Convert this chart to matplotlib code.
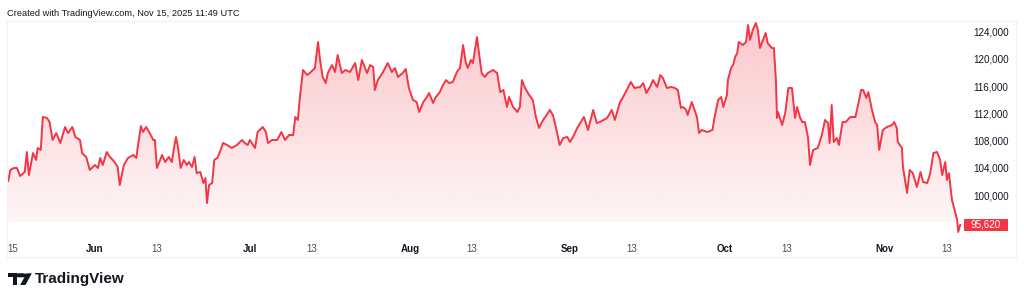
import numpy as np
import pandas as pd
import matplotlib
matplotlib.use("Agg")
import matplotlib.pyplot as plt
from matplotlib.colors import to_rgb
from matplotlib.patches import Polygon, Rectangle, Circle
from matplotlib.transforms import blended_transform_factory

plt.rcParams["font.family"] = ["Liberation Sans", "DejaVu Sans"]

START = pd.Timestamp("2025-05-15")
RED = "#F23645"
TEXT = "#131722"

# days since START and price (USD)
days = [
    0.2, 0.6, 1.3, 1.9, 2.5, 3.4, 3.8, 4.2, 5.0, 5.6, 5.9, 6.5, 6.9, 7.7, 8.2, 8.8, 9.5, 10.3,
    11.2, 11.8, 12.6, 13.2, 14.1, 14.5, 15.3, 16.0, 17.0, 17.6, 18.0, 18.5, 19.3, 19.9, 20.8,
    21.4, 21.8, 22.6, 23.4, 24.4, 25.0, 25.4, 25.9, 26.3, 26.9, 27.5, 28.3, 28.6, 29.0, 30.0,
    30.6, 31.3, 31.9, 32.3, 32.7, 33.1, 33.6, 34.2, 34.8, 35.2, 35.8, 36.3, 36.7, 37.4, 38.0,
    38.4, 38.7, 39.1, 39.7, 40.1, 40.7, 41.2, 41.8, 42.6, 43.5, 44.5, 45.5, 46.0, 46.6, 47.0,
    48.0, 48.5, 49.5, 50.1, 50.5, 51.3, 52.3, 53.1, 53.8, 54.6, 55.4, 55.8, 56.3, 56.7, 57.3,
    58.1, 58.6, 59.6, 60.2, 60.6, 61.1, 61.7, 62.1, 62.9, 63.5, 64.0, 64.8, 65.5, 66.4, 67.4,
    68.0, 68.7, 69.7, 70.3, 70.9, 71.2, 71.8, 72.8, 73.7, 74.5, 75.1, 75.7, 76.6, 77.2, 77.8,
    78.6, 79.3, 79.8, 80.6, 81.3, 81.7, 82.5, 82.9, 83.8, 84.4, 85.0, 85.6, 86.3, 87.1, 87.7,
    88.3, 88.8, 89.2, 89.8, 90.2, 91.0, 91.3, 91.9, 92.5, 93.1, 94.1, 94.9, 95.5, 96.1, 96.8,
    97.2, 98.0, 98.8, 99.3, 99.7, 100.3, 101.1, 101.8, 102.4, 103.0, 103.8, 104.5, 105.1,
    105.7, 106.4, 107.0, 107.7, 108.5, 109.0, 109.6, 110.4, 111.0, 111.7, 112.5, 113.5, 114.2,
    114.8, 116.2, 117.1, 117.7, 118.7, 119.2, 120.0, 120.8, 121.5, 122.6, 123.2, 123.8, 124.5,
    125.1, 125.9, 126.5, 127.0, 127.8, 128.6, 129.3, 129.9, 130.5, 130.9, 131.5, 131.8, 132.6,
    133.0, 133.6, 134.0, 134.5, 135.6, 136.6, 136.7, 137.1, 137.7, 138.3, 138.7, 139.1, 139.4,
    139.6, 140.2, 140.6, 141.0, 141.4, 141.7, 142.5, 143.1, 143.5, 143.9, 144.4, 145.0, 145.4,
    145.8, 146.4, 146.9, 147.3, 148.1, 148.5, 148.9, 149.1, 149.3, 150.1, 150.7, 151.3, 152.0,
    152.6, 153.0, 153.6, 154.0, 154.5, 155.1, 155.5, 156.1, 157.0, 157.8, 158.4, 159.0, 159.3,
    159.7, 160.1, 160.7, 161.1, 161.8, 162.4, 163.3, 164.3, 164.8, 165.4, 165.8, 166.4, 166.8,
    167.5, 168.1, 168.5, 168.9, 169.6, 170.4, 171.4, 171.8, 172.3, 172.5, 173.3, 173.5, 174.3,
    174.8, 175.4, 176.2, 176.9, 177.4, 178.2, 178.8, 179.4, 180.1, 180.7, 181.1, 181.7, 182.0,
    182.4, 183.0, 183.6, 184.0, 184.2, 184.6,
]
prices = [
    102050, 103680, 103970, 103970, 102790, 103380, 106320, 102940, 106170, 105150, 106910,
    106620, 111470, 111320, 110730, 108090, 109110, 107640, 110000, 109110, 110000, 108530,
    108090, 106170, 105590, 103680, 104410, 103970, 105440, 104410, 106320, 105590, 104850,
    104120, 101470, 104410, 105440, 105880, 105440, 107640, 110140, 109260, 110000, 109260,
    108090, 108090, 103970, 105880, 104850, 105590, 104850, 106910, 108530, 106910, 103970,
    105150, 104410, 104850, 104120, 105590, 103230, 103380, 101760, 102500, 98820, 101470,
    101760, 105150, 105440, 106320, 107640, 107350, 106910, 107350, 108090, 107640, 107350,
    108090, 106910, 109260, 110000, 109260, 107640, 108090, 108090, 109260, 108090, 108820,
    108820, 111470, 111030, 114410, 118380, 117640, 117930, 118670, 122490, 119850, 117350,
    116460, 117930, 119110, 118080, 120580, 117930, 118380, 118080, 119400, 116900, 119850,
    117930, 119110, 118820, 115440, 116900, 118080, 119400, 118080, 118670, 117350, 117930,
    118520, 115730, 113970, 113670, 112200, 113670, 114410, 114990, 113520, 114260, 115140,
    116170, 116900, 116460, 116610, 118080, 118670, 122050, 119550, 118670, 119850, 119400,
    123230, 121320, 117930, 117350, 117930, 118380, 117930, 115140, 115440, 112940, 114410,
    112940, 112200, 112940, 116900, 115730, 114700, 113970, 111470, 109850, 111030, 111760,
    112500, 111760, 109560, 107350, 108380, 108530, 107790, 108530, 109850, 110580, 111470,
    109560, 112500, 110580, 110730, 111320, 112500, 111030, 113670, 114260, 115440, 116610,
    115730, 115880, 116460, 114990, 115880, 116900, 115880, 117640, 117200, 115730, 115880,
    115730, 115440, 112790, 112940, 112500, 111760, 113670, 112790, 111470, 109110, 109560,
    109260, 109560, 110000, 111760, 113970, 114410, 112940, 113970, 114700, 116900, 118670,
    119110, 120290, 120870, 122490, 122050, 122490, 124990, 122790, 124250, 125280, 124250,
    121610, 122790, 123810, 122340, 121610, 121610, 116900, 111320, 112200, 110290, 112050,
    115730, 115730, 111320, 112940, 111320, 110730, 110730, 108530, 104410, 106620, 106910,
    108820, 111030, 110580, 107640, 113230, 107790, 108380, 107350, 110730, 110730, 111470,
    111470, 113230, 115440, 115440, 114260, 115140, 112500, 110730, 110290, 106620, 109560,
    110000, 110290, 110730, 109850, 107790, 106910, 104120, 100290, 103680, 103230, 101180,
    103380, 101910, 101760, 103230, 106170, 106320, 105150, 102940, 104850, 102210, 103230,
    99270, 97500, 96330, 94560, 95620,
]

tick_dates = ["2025-05-15", "2025-06-01", "2025-06-13", "2025-07-01", "2025-07-13",
              "2025-08-01", "2025-08-13", "2025-09-01", "2025-09-13", "2025-10-01",
              "2025-10-13", "2025-11-01", "2025-11-13"]
tick_labels = ["15", "Jun", "13", "Jul", "13", "Aug", "13", "Sep", "13", "Oct", "13", "Nov", "13"]
price_ticks = list(range(100000, 124001, 4000))

W, H = 1024, 302
fig = plt.figure(figsize=(W / 100, H / 100), dpi=100)
fig.patch.set_facecolor("white")


def px(x, y):
    return x / W, 1 - y / H


ax = fig.add_axes([7 / W, 1 - 235 / H, 961 / W, 214 / H])
x = np.array(days)
y = np.array(prices)
xmin, xmax = -0.04, 186.1
ymin, ymax = 94120, 125580
base = 96000

# gradient area under the line
grad = np.zeros((200, 1, 4))
grad[:, 0, :3] = to_rgb(RED)
grad[:, 0, 3] = np.linspace(0.28, 0.05, 200)
im = ax.imshow(grad, aspect="auto", extent=[xmin, xmax, base, ymax], origin="upper", zorder=1)
verts = [(x[0], base)] + list(zip(x, y)) + [(x[-1], base)]
poly = Polygon(verts, closed=True, facecolor="none", edgecolor="none")
ax.add_patch(poly)
im.set_clip_path(poly)

ax.plot(x, y, color=RED, lw=1.4, zorder=3, solid_joinstyle="round")

ax.set_xlim(xmin, xmax)
ax.set_ylim(ymin, ymax)
for s in ax.spines.values():
    s.set_visible(False)

tick_pos = [(pd.Timestamp(d) - START).days for d in tick_dates]
ax.set_xticks(tick_pos)
ax.set_xticklabels(tick_labels)
ax.tick_params(axis="x", length=0, pad=6.5, labelsize=7, labelcolor="#4a4e59")
for i, lab in enumerate(ax.get_xticklabels()):
    if not lab.get_text().isdigit():
        lab.set_fontweight("bold")
        lab.set_color(TEXT)
    if i == 0:
        lab.set_horizontalalignment("left")

ax.yaxis.tick_right()
ax.set_yticks(price_ticks)
ax.set_yticklabels([f"{v:,}" for v in price_ticks])
ax.tick_params(axis="y", length=0, pad=3.6, labelsize=7.1, labelcolor=TEXT)

# last price label
tr = blended_transform_factory(ax.transAxes, ax.transData)
ax.add_patch(Rectangle((957 / 961, y[-1] - 880), 44 / 961, 1760, transform=tr,
                       facecolor=RED, edgecolor="none", clip_on=False, zorder=5))
ax.text(979 / 961, y[-1], f"{y[-1]:,}", transform=tr, ha="center", va="center",
        color="white", fontsize=7.1, zorder=6, clip_on=False)

# pane border
fig.add_artist(Rectangle(px(7, 257), 1009 / W, 236 / H, transform=fig.transFigure,
                         facecolor="none", edgecolor="#eef0f4", lw=0.8))

fig.text(*px(7, 14), "Created with TradingView.com, Nov 15, 2025 11:49 UTC",
         fontsize=6.7, color=TEXT, va="center", ha="left")

# TradingView logo
logo = "#131722"
fig.add_artist(Rectangle(px(8.3, 277.3), 9 / W, 4 / H, transform=fig.transFigure, fc=logo, ec="none"))
fig.add_artist(Rectangle(px(12.8, 285), 4.5 / W, 11.7 / H, transform=fig.transFigure, fc=logo, ec="none"))
fig.add_artist(Polygon([px(19.8, 277.3), px(21.8, 273.3), px(21.8, 277.3)], transform=fig.transFigure, fc="none", ec="none"))
cx, cy = px(21, 275.3)
fig.add_artist(Circle((cx, cy), 2.1 / H, transform=fig.transFigure, fc=logo, ec="none"))
fig.add_artist(Polygon([px(26.5, 273.3), px(31.8, 273.3), px(25.5, 285), px(20.2, 285)],
                       transform=fig.transFigure, fc=logo, ec="none"))
fig.text(*px(35, 279.5), "TradingView", fontsize=11, fontweight="bold", color=logo,
         va="center", ha="left")

fig.savefig("out.png", dpi=100)
